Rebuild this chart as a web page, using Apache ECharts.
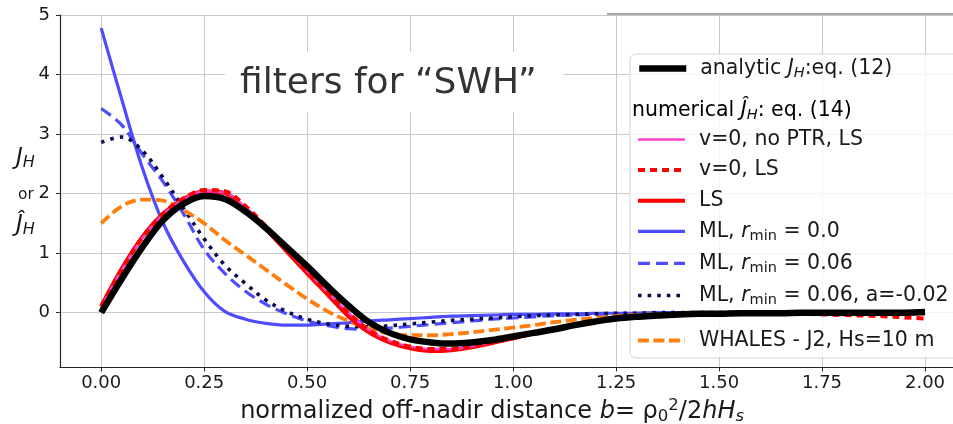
<!DOCTYPE html>
<html>
<head>
<meta charset="utf-8">
<script src="https://cdn.jsdelivr.net/npm/echarts@6/dist/echarts.min.js"></script>
<style>
  html, body { margin: 0; padding: 0; background: #fff; }
  #chart { width: 953px; height: 424px; }
</style>
</head>
<body>
<div id="chart"></div>
<script>
// normalized off-nadir distance b (shared abscissa of every filter curve)
const bValues = [0.00, 0.05, 0.10, 0.15, 0.20, 0.25, 0.30, 0.35, 0.40, 0.45,
                 0.50, 0.55, 0.60, 0.65, 0.70, 0.75, 0.80, 0.85, 0.90, 0.95,
                 1.00, 1.05, 1.10, 1.15, 1.20, 1.25, 1.30, 1.35, 1.40, 1.45,
                 1.50, 1.55, 1.60, 1.65, 1.70, 1.75, 1.80, 1.85, 1.90, 1.95, 2.00];

// analytic J_H, eq. (12)
const analyticJH = [0.00, 0.57, 1.10, 1.55, 1.83, 1.96, 1.91, 1.70, 1.42, 1.10,
                    0.78, 0.44, 0.12, -0.16, -0.34, -0.45, -0.50, -0.52, -0.50, -0.46,
                    -0.40, -0.34, -0.28, -0.21, -0.15, -0.10, -0.07, -0.05, -0.03, -0.02,
                    -0.02, -0.01, -0.01, -0.01, 0.00, 0.00, 0.00, 0.00, 0.00, 0.00, 0.01];

// numerical estimates, eq. (14)
const v0NoPtrLS = [0.09, 0.72, 1.25, 1.65, 1.90, 2.04, 2.02, 1.77, 1.44, 1.07,
                   0.70, 0.34, 0.00, -0.29, -0.47, -0.57, -0.61, -0.61, -0.57, -0.50,
                   -0.43, -0.35, -0.28, -0.21, -0.15, -0.10, -0.07, -0.05, -0.03, -0.02,
                   -0.02, -0.01, -0.01, -0.01, -0.01, -0.01, -0.01, -0.01, -0.01, -0.01, -0.01];

const v0LS = [0.10, 0.73, 1.26, 1.66, 1.92, 2.06, 2.04, 1.79, 1.45, 1.08,
              0.71, 0.34, 0.00, -0.29, -0.47, -0.57, -0.61, -0.61, -0.57, -0.50,
              -0.43, -0.35, -0.28, -0.21, -0.15, -0.11, -0.08, -0.06, -0.04, -0.03,
              -0.03, -0.02, -0.02, -0.02, -0.02, -0.03, -0.04, -0.05, -0.06, -0.08, -0.10];

const leastSquares = [0.11, 0.74, 1.27, 1.66, 1.91, 2.04, 2.01, 1.74, 1.40, 1.03,
                      0.66, 0.30, -0.06, -0.33, -0.50, -0.60, -0.645, -0.63, -0.58, -0.51,
                      -0.43, -0.35, -0.28, -0.21, -0.15, -0.10, -0.07, -0.05, -0.03, -0.02,
                      -0.02, -0.01, -0.01, -0.01, -0.01, -0.01, -0.01, -0.01, -0.01, -0.01, -0.01];

const mlRmin0 = [4.78, 3.58, 2.43, 1.51, 0.86, 0.35, 0.02, -0.11, -0.18, -0.21,
                 -0.21, -0.19, -0.17, -0.14, -0.12, -0.10, -0.08, -0.06, -0.05, -0.04,
                 -0.03, -0.03, -0.02, -0.02, -0.01, -0.01, -0.01, 0.00, 0.00, 0.00,
                 0.00, 0.00, 0.00, 0.00, 0.00, 0.00, 0.00, 0.00, 0.00, 0.00, 0.00];

const mlRmin006 = [3.43, 3.15, 2.66, 2.20, 1.66, 1.06, 0.66, 0.36, 0.14, -0.02,
                   -0.14, -0.22, -0.27, -0.28, -0.26, -0.23, -0.20, -0.17, -0.14, -0.11,
                   -0.09, -0.07, -0.05, -0.04, -0.03, -0.02, -0.01, -0.01, 0.00, 0.00,
                   0.00, 0.00, 0.00, 0.00, 0.00, 0.00, 0.00, 0.00, 0.00, 0.00, 0.00];

const mlRmin006A = [2.86, 2.95, 2.72, 2.27, 1.75, 1.24, 0.80, 0.49, 0.21, 0.02,
                    -0.11, -0.19, -0.23, -0.24, -0.22, -0.19, -0.16, -0.13, -0.11, -0.09,
                    -0.07, -0.05, -0.04, -0.03, -0.02, -0.01, -0.01, 0.00, 0.00, 0.00,
                    0.00, 0.00, 0.00, 0.00, 0.00, 0.00, 0.00, 0.00, 0.00, 0.00, 0.00];

const whalesJ2 = [1.50, 1.79, 1.90, 1.88, 1.72, 1.50, 1.22, 0.97, 0.72, 0.47,
                  0.23, 0.02, -0.14, -0.27, -0.35, -0.38, -0.38, -0.36, -0.33, -0.29,
                  -0.25, -0.21, -0.16, -0.12, -0.09, -0.06, -0.04, -0.03, -0.02, -0.01,
                  -0.01, 0.00, 0.00, 0.00, 0.00, 0.00, 0.00, 0.00, 0.00, 0.00, 0.00];

// tick labels
const xTicks = [0, 0.25, 0.5, 0.75, 1.0, 1.25, 1.5, 1.75, 2.0];
const yTicks = [0, 1, 2, 3, 4, 5];

const FONT = '"DejaVu Sans", sans-serif';
const INK = '#1a1a1a';

const NAMES = {
  analytic: 'analytic J_H: eq. (12)',
  noPtr: 'v=0, no PTR, LS',
  v0: 'v=0, LS',
  ls: 'LS',
  ml0: 'ML, r_min = 0.0',
  ml006: 'ML, r_min = 0.06',
  ml006a: 'ML, r_min = 0.06, a=-0.02',
  whales: 'WHALES - J2, Hs=10 m'
};

const LEGEND_TEXT = {
  [NAMES.analytic]: '{n|analytic }{it|J}{subi|H}{n|:eq. (12)}',
  [NAMES.noPtr]: '{n|v=0, no PTR, LS}',
  [NAMES.v0]: '{n|v=0, LS}',
  [NAMES.ls]: '{n|LS}',
  [NAMES.ml0]: '{n|ML, }{it|r}{sub|min}{n| = 0.0}',
  [NAMES.ml006]: '{n|ML, }{it|r}{sub|min}{n| = 0.06}',
  [NAMES.ml006a]: '{n|ML, }{it|r}{sub|min}{n| = 0.06, a=-0.02}',
  [NAMES.whales]: '{n|WHALES - J2, Hs=10 m}'
};

const LS = 20.5;   // legend font size
const richLegend = {
  n:    { fontFamily: FONT, fontSize: LS, color: INK, lineHeight: 24 },
  it:   { fontFamily: FONT, fontSize: LS, color: INK, lineHeight: 24, fontStyle: 'italic' },
  sub:  { fontFamily: FONT, fontSize: 14.5, color: INK, lineHeight: 14, verticalAlign: 'bottom' },
  subi: { fontFamily: FONT, fontSize: 14.5, color: INK, lineHeight: 14, verticalAlign: 'bottom', fontStyle: 'italic' }
};

const toPoints = ys => bValues.map((b, i) => [b, ys[i]]);

function curve(name, ys, color, width, dash) {
  return {
    type: 'line',
    name: name,
    data: toPoints(ys),
    symbol: 'none',
    smooth: 0.35,
    clip: true,
    z: 2,
    itemStyle: { color: color },
    lineStyle: { color: color, width: width, type: dash || 'solid', cap: 'butt', join: 'round' },
    emphasis: { disabled: true }
  };
}

const BLUE = '#4d4dff';
const series = [
  curve(NAMES.ml0, mlRmin0, BLUE, 3.2),
  curve(NAMES.ml006, mlRmin006, BLUE, 3.2, [12, 6]),
  curve(NAMES.ml006a, mlRmin006A, '#0b0b4d', 3.6, [3.6, 6]),
  curve(NAMES.whales, whalesJ2, '#ff7f0e', 3.8, [11, 4.5]),
  curve(NAMES.ls, leastSquares, '#ff0000', 4),
  curve(NAMES.noPtr, v0NoPtrLS, '#ff40d0', 2.4),
  curve(NAMES.v0, v0LS, '#ff0000', 4, [7, 5]),
  curve(NAMES.analytic, analyticJH, '#000000', 6.5)
];

function legendBlock(names, top) {
  return {
    data: names,
    orient: 'vertical',
    left: 636,
    top: top,
    padding: 0,
    itemWidth: 47,
    itemHeight: 14,
    itemGap: 9.6,
    selectedMode: false,
    itemStyle: { opacity: 0 },
    lineStyle: { width: 'inherit', type: 'inherit', color: 'inherit' },
    formatter: name => LEGEND_TEXT[name],
    textStyle: { fontFamily: FONT, fontSize: LS, color: INK, padding: [0, 0, 0, 9], rich: richLegend }
  };
}

const yTitleRich = {
  it:   { fontFamily: FONT, fontSize: 23, fill: INK, lineHeight: 26, fontStyle: 'italic' },
  subi: { fontFamily: FONT, fontSize: 16, fill: INK, lineHeight: 15, verticalAlign: 'bottom', fontStyle: 'italic' }
};

const option = {
  animation: false,
  backgroundColor: '#ffffff',
  grid: { left: 60, right: -13.2, top: 15, bottom: 56.6, containLabel: false, outerBoundsMode: 'none' },
  xAxis: {
    type: 'value',
    min: -0.1,
    max: 2.1,
    axisLine: { show: true, onZero: false, lineStyle: { color: '#262626', width: 1.2 } },
    axisTick: { show: true, customValues: xTicks, length: 4, lineStyle: { color: '#262626' } },
    axisLabel: {
      customValues: xTicks,
      formatter: v => v.toFixed(2),
      fontFamily: FONT, fontSize: 18, color: INK, margin: 7
    },
    splitLine: { show: true, lineStyle: { color: '#c9c9c9', width: 1 } },
    name: '{n|normalized off-nadir distance }{it|b}{n|= ρ}{sub|0}{sup|2}{n|/2}{it|hH}{subi|s}',
    nameLocation: 'middle',
    nameGap: 30,
    nameTextStyle: {
      padding: [0, 42, 0, 0],
      rich: {
        n:    { fontFamily: FONT, fontSize: 24, color: INK, lineHeight: 28 },
        it:   { fontFamily: FONT, fontSize: 24, color: INK, lineHeight: 28, fontStyle: 'italic' },
        sub:  { fontFamily: FONT, fontSize: 16.5, color: INK, lineHeight: 16, verticalAlign: 'bottom' },
        subi: { fontFamily: FONT, fontSize: 16.5, color: INK, lineHeight: 16, verticalAlign: 'bottom', fontStyle: 'italic' },
        sup:  { fontFamily: FONT, fontSize: 16.5, color: INK, lineHeight: 16, verticalAlign: 'top' }
      }
    }
  },
  yAxis: {
    type: 'value',
    min: -0.92,
    max: 5,
    axisLine: { show: true, onZero: false, lineStyle: { color: '#262626', width: 1.2 } },
    axisTick: { show: true, customValues: yTicks, length: 4, lineStyle: { color: '#262626' } },
    axisLabel: { customValues: yTicks, fontFamily: FONT, fontSize: 18, color: INK, margin: 10 },
    splitLine: { show: true, lineStyle: { color: '#c9c9c9', width: 1 } }
  },
  legend: [
    legendBlock([NAMES.analytic], 58),
    legendBlock([NAMES.noPtr, NAMES.v0, NAMES.ls, NAMES.ml0, NAMES.ml006, NAMES.ml006a], 129),
    legendBlock([NAMES.whales], 330)
  ],
  graphic: [
    // thin rule along the top right
    { type: 'line', z: 1, shape: { x1: 607, y1: 14, x2: 953, y2: 14 }, style: { stroke: '#8a8a8a', lineWidth: 1.6 } },
    // panel caption on a white plate
    { type: 'rect', z: 1, shape: { x: 225, y: 52, width: 338, height: 60 }, style: { fill: '#ffffff' } },
    { type: 'text', z: 1, x: 240, y: 84,
      style: { text: 'filters for “SWH”', fontFamily: FONT, fontSize: 36, fill: '#333333',
               textAlign: 'left', textVerticalAlign: 'middle' } },
    // legend frame
    { type: 'rect', z: 1, shape: { x: 630, y: 54, width: 340, height: 304, r: 6 },
      style: { fill: 'rgba(255,255,255,0.8)', stroke: '#d4d4d4', lineWidth: 1 } },
    { type: 'text', z: 5, x: 632, y: 111,
      style: { text: '{n|numerical }{it|Ĵ}{subi|H}{n|: eq. (14)}', rich: richLegend,
               textAlign: 'left', textVerticalAlign: 'middle' } },
    // y-axis title
    { type: 'text', z: 1, x: 16, y: 158,
      style: { text: '{it|J}{subi|H}', textAlign: 'left', textVerticalAlign: 'middle', rich: yTitleRich } },
    { type: 'text', z: 1, x: 18, y: 195,
      style: { text: 'or', fontFamily: FONT, fontSize: 15.5, fill: INK, textAlign: 'left', textVerticalAlign: 'middle' } },
    { type: 'text', z: 1, x: 16, y: 225,
      style: { text: '{it|Ĵ}{subi|H}', textAlign: 'left', textVerticalAlign: 'middle', rich: yTitleRich } }
  ],
  series: series
};

const chart = echarts.init(document.getElementById('chart'), null, { renderer: 'canvas' });
chart.setOption(option);
</script>
</body>
</html>
